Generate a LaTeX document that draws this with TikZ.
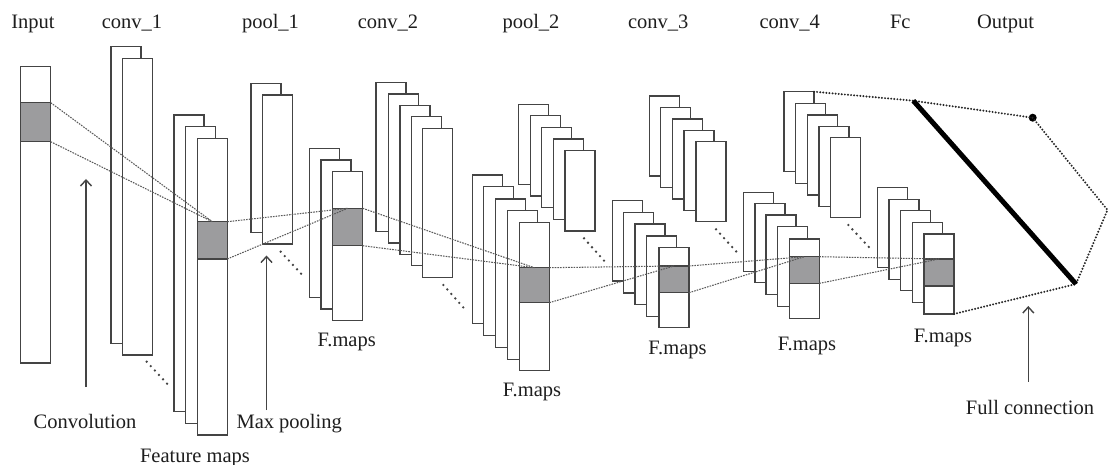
\documentclass[tikz,border=0pt]{standalone}
\usepackage{fontspec}
\setmainfont{Liberation Serif}
\usetikzlibrary{arrows.meta}
\definecolor{edgec}{HTML}{444444}
\definecolor{grayc}{HTML}{9C9C9E}
\definecolor{linkc}{HTML}{5A5A5A}
\definecolor{textc}{HTML}{1E1E1E}
\tikzset{
 fmap/.style={draw=edgec, line width=1.35pt, fill=white, inner sep=0pt, outer sep=0pt, anchor=north west, minimum width=30pt},
 graybox/.style={fmap, fill=grayc},
 link/.style={draw=linkc, line width=1.05pt, dash pattern=on 1.6pt off 1.1pt},
 fclink/.style={draw=black!85, line width=2.2pt, line cap=round, dash pattern=on 0pt off 3.1pt},
 ellip/.style={draw=edgec, line width=2.6pt, line cap=round, dash pattern=on 0pt off 6pt},
 uparrow/.style={draw=edgec, line width=1.4pt, -{Straight Barb[length=6pt,width=11pt]}},
 lbl/.style={anchor=base, inner sep=0pt, font=\fontsize{20.5}{24}\selectfont, text=textc},
}
\begin{document}
\begin{tikzpicture}[x=1pt,y=-1pt]
\useasboundingbox[fill=white] (0,0) rectangle (1109,465);

% Input
\node[fmap, minimum height=296.3pt, name=in] at (20.7,66.7) {};
\node[graybox, minimum height=39pt, name=gin] at (20.7,102.7) {};

% conv_1
\node[fmap, minimum height=296.7pt, name=c1-1] at (111,46.7) {};
\node[fmap, minimum height=296.7pt, name=c1-2] at (122.3,58.3) {};

% feature maps after conv_1
\foreach \i/\x/\y in {1/174/115, 2/185.3/126.7, 3/197.3/138.3}
  \node[fmap, minimum height=296.7pt, name=f1-\i] at (\x,\y) {};
\node[graybox, minimum height=37.3pt, name=g1] at (197.3,221.7) {};

% pool_1
\node[fmap, minimum height=149.3pt, name=p1-1] at (251,83.3) {};
\node[fmap, minimum height=149pt, name=p1-2] at (262.7,95) {};

% F.maps after pool_1
\foreach \i/\x/\y in {1/309.3/148.3, 2/321/160, 3/332.7/171.7}
  \node[fmap, minimum height=149pt, name=f2-\i] at (\x,\y) {};
\node[graybox, minimum height=37.4pt, name=g2] at (332.7,208.3) {};

% conv_2
\foreach \i/\x/\y in {1/376/82.7, 2/388.3/94, 3/400/105.3, 4/411.3/116.7, 5/422.7/128.5}
  \node[fmap, minimum height=149pt, name=c2-\i] at (\x,\y) {};

% F.maps after conv_2
\foreach \i/\x/\y in {1/472.3/175, 2/483.3/186.7, 3/495.7/199, 4/507.3/210.7, 5/519.3/222.3}
  \node[fmap, minimum height=148.5pt, name=f3-\i] at (\x,\y) {};
\node[graybox, minimum height=35pt, name=g3] at (519.3,267.7) {};

% pool_2
\foreach \i/\x/\y in {1/518.3/104.3, 2/530.7/115.7, 3/541.7/127.3, 4/553.3/139, 5/565/150.7}
  \node[fmap, minimum height=80.3pt, name=p2-\i] at (\x,\y) {};

% conv_3
\foreach \i/\x/\y in {1/649.3/96, 2/660.7/107.3, 3/672.7/119, 4/684/130.7, 5/696/141.7}
  \node[fmap, minimum height=80pt, name=c3-\i] at (\x,\y) {};

% F.maps after pool_2
\foreach \i/\x/\y in {1/612.3/200.7, 2/623.3/212.7, 3/635/224, 4/646.7/236, 5/659/247.3}
  \node[fmap, minimum height=80.3pt, name=f4-\i] at (\x,\y) {};
\node[graybox, minimum height=26.7pt, name=g4] at (659,266) {};

% conv_4
\foreach \i/\x/\y in {1/784/91.7, 2/795.7/103.3, 3/807.3/115, 4/819/126.7, 5/830.7/137.7}
  \node[fmap, minimum height=80pt, name=c4-\i] at (\x,\y) {};

% F.maps after conv_3
\foreach \i/\x/\y in {1/743.3/192.3, 2/755/203.3, 3/766/215, 4/777.7/226.7, 5/789.3/239}
  \node[fmap, minimum height=79.5pt, name=f5-\i] at (\x,\y) {};
\node[graybox, minimum height=26.7pt, name=g5] at (789.3,256.7) {};

% F.maps after conv_4
\foreach \i/\x/\y in {1/877.3/187.3, 2/889/199.3, 3/900.7/210.7, 4/912.3/222.3, 5/924/234}
  \node[fmap, minimum height=80pt, name=f6-\i] at (\x,\y) {};
\node[graybox, minimum height=27pt, name=g6] at (924,259) {};

% receptive-field links
\draw[link] (gin.north east) -- (g1.north);
\draw[link] (gin.south east) -- (g1.north);
\draw[link] (g1.north east) -- (g2.north);
\draw[link] (g1.south east) -- (g2.north);
\draw[link] (g2.north east) -- (g3.north);
\draw[link] (g2.south east) -- (g3.north);
\draw[link] (g3.north east) -- (g4.north);
\draw[link] (g3.south east) -- (g4.north);
\draw[link] (g4.north east) -- (g5.north);
\draw[link] (g4.south east) -- (g5.north);
\draw[link] (g5.north east) -- (g6.north);
\draw[link] (g5.south east) -- (g6.north);

% ellipsis dots
\coordinate (e1a) at (146.7,361.7); \coordinate (e1b) at (168.3,385);
\coordinate (e2a) at (280.7,251.7); \coordinate (e2b) at (302.3,275);
\coordinate (e3a) at (443.3,285);   \coordinate (e3b) at (464,308.3);
\coordinate (e4a) at (584,238.3);   \coordinate (e4b) at (605,261.7);
\coordinate (e5a) at (716,229.3);   \coordinate (e5b) at (737.3,252.7);
\coordinate (e6a) at (848.3,225);   \coordinate (e6b) at (870,248.3);
\foreach \k in {1,...,6} \draw[ellip] (e\k a) -- (e\k b);

% full connection
\coordinate (fcTop) at (913.3,100.7);
\coordinate (fcBot) at (1076,284);
\coordinate (outR) at (1107.5,210);
\node[circle, fill=black, inner sep=0pt, minimum size=8pt, name=outDot] at (1032.7,117.7) {};
\draw[fclink] (c4-1.north east) -- (fcTop) -- (outDot.center) -- (outR) -- (fcBot);
\draw[fclink] (f6-5.south east) -- (fcBot);
\draw[black, line width=5pt] (fcTop) -- (fcBot);

% arrows
\coordinate (a1s) at (86,387);     \coordinate (a1e) at (86,179);
\coordinate (a2s) at (266.5,410);  \coordinate (a2e) at (266.5,255.5);
\coordinate (a3s) at (1028.3,381.7); \coordinate (a3e) at (1028.3,306);
\draw[uparrow] (a1s) -- (a1e);
\draw[uparrow] (a2s) -- (a2e);
\draw[uparrow] (a3s) -- (a3e);

% labels
\node[lbl, name=tInput] at (33,29) {Input};
\node[lbl, name=tc1] at (132,29) {conv\_1};
\node[lbl, name=tp1] at (270.5,29) {pool\_1};
\node[lbl, name=tc2] at (388,29) {conv\_2};
\node[lbl, name=tp2] at (531,29) {pool\_2};
\node[lbl, name=tc3] at (658.3,29) {conv\_3};
\node[lbl, name=tc4] at (789.7,29) {conv\_4};
\node[lbl, name=tfc] at (900.3,29) {Fc};
\node[lbl, name=tout] at (1005.5,29) {Output};
\node[lbl, name=tconv] at (85,428.5) {Convolution};
\node[lbl, name=tmax] at (289.2,428.5) {Max pooling};
\node[lbl, name=tfeat] at (195,462) {Feature maps};
\node[lbl, name=fm1] at (346.7,346.7) {F.maps};
\node[lbl, name=fm2] at (532,396) {F.maps};
\node[lbl, name=fm3] at (677.5,354) {F.maps};
\node[lbl, name=fm4] at (807,350) {F.maps};
\node[lbl, name=fm5] at (943,342) {F.maps};
\node[lbl, name=tfull] at (1030,414) {Full connection};
\end{tikzpicture}
\end{document}
